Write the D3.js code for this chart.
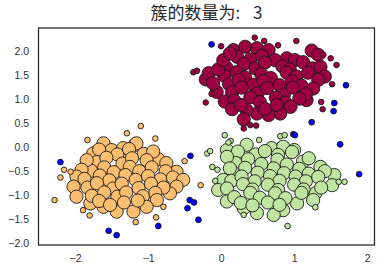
<!DOCTYPE html>
<html>
<head>
<meta charset="utf-8">
<script src="https://cdn.jsdelivr.net/npm/d3@7"></script>
<style>
  body { margin: 0; background: #fff; }
  svg { display: block; }
</style>
</head>
<body>
<script>
"use strict";

const width = 380;
const height = 270;

const clusterNames = ["0", "1", "2"];
const xTicks = [-2, -1, 0, 1, 2];
const yTicks = [-2, -1.5, -1, -0.5, 0, 0.5, 1, 1.5, 2];

// core samples of cluster 0 (red)
const redCore = [
  [0.17, 2.02], [0.33, 2.09], [0.49, 2.06], [0.65, 2.02], [0.9, 1.85], [1.01, 1.81],
  [0.22, 1.88], [0.4, 1.83], [0.56, 1.9], [0.74, 1.81],
  [0.07, 1.66], [0.31, 1.73], [0.47, 1.64], [0.6, 1.76], [0.84, 1.68], [0.94, 1.62], [1.12, 1.77], [1.25, 1.64],
  [1.24, 2.01], [1.33, 1.92], [1.36, 1.67], [1.42, 1.47],
  [0.04, 1.49], [0.21, 1.56], [0.33, 1.45], [0.55, 1.52], [0.68, 1.44], [0.9, 1.55], [1.03, 1.47], [1.19, 1.55],
  [-0.21, 1.41], [-0.17, 1.54], [-0.04, 1.62], [0.03, 1.81], [0.12, 1.95],
  [0.11, 1.31], [0.24, 1.4], [0.44, 1.3], [0.58, 1.38], [0.8, 1.29], [0.97, 1.37], [1.1, 1.28],
  [1.33, 1.4], [1.26, 1.22], [1.17, 0.98],
  [0.15, 1.14], [0.28, 1.24], [0.5, 1.12], [0.63, 1.23], [0.86, 1.1], [0.98, 1.24], [1.16, 1.1],
  [-0.06, 1.15], [-0.11, 1.33], [0.05, 0.95],
  [0.18, 0.97], [0.4, 1.04], [0.53, 0.94], [0.75, 1.03], [0.88, 0.93], [1.07, 1.01],
  [0.95, 0.84], [0.81, 0.7], [0.65, 0.67], [0.49, 0.7], [0.35, 0.77], [0.31, 0.58], [0.15, 0.79],
  [0.27, 0.88], [0.6, 0.8], [0.76, 0.88]
];
const redBorder = [
  [0.0, 2.1], [0.46, 2.28], [0.59, 2.21], [0.78, 2.12], [1.03, 2.21], [1.4, 1.92], [1.5, 1.85],
  [1.58, 1.71], [1.52, 1.31], [-0.38, 1.56], [-0.33, 1.59], [-0.13, 1.11], [-0.21, 0.93],
  [1.37, 0.94], [1.39, 0.79], [0.31, 0.39], [0.4, 0.46], [0.48, 0.45]
];

// core samples of cluster 1 (orange)
const orangeCore = [
  [-1.61, 0.08], [-1.75, -0.13], [-1.5, -0.06], [-1.34, -0.02], [-1.18, 0.05], [-1.16, 0.08],
  [-1.67, -0.05], [-1.42, -0.15], [-1.26, -0.04], [-1.06, -0.14],
  [-1.7, -0.31], [-1.57, -0.22], [-1.35, -0.34], [-1.22, -0.23], [-0.86, -0.25],
  [-0.93, -0.09], [-1.02, -0.27], [-0.75, -0.33], [-0.61, -0.51],
  [-1.78, -0.49], [-1.6, -0.42], [-1.47, -0.52], [-1.25, -0.41], [-1.12, -0.5], [-0.95, -0.42], [-0.76, -0.5],
  [-1.84, -0.27], [-1.91, -0.47], [-1.98, -0.61], [-2.02, -0.82],
  [-1.87, -0.66], [-1.66, -0.59], [-1.53, -0.69], [-1.31, -0.58], [-1.17, -0.68], [-1.0, -0.6], [-0.83, -0.67], [-0.66, -0.63],
  [-0.52, -0.68], [-0.61, -0.82], [-0.7, -0.96],
  [-1.83, -0.84], [-1.7, -0.75], [-1.48, -0.86], [-1.36, -0.76], [-1.13, -0.85], [-0.96, -0.76], [-0.79, -0.84],
  [-1.98, -1.03], [-1.79, -1.17],
  [-1.77, -1.01], [-1.6, -0.94], [-1.42, -1.03], [-1.3, -0.94], [-1.07, -1.02], [-0.9, -0.95],
  [-0.88, -1.1], [-1.02, -1.24], [-1.2, -1.34], [-1.43, -1.34], [-1.61, -1.24],
  [-1.67, -1.12], [-1.52, -1.2], [-1.33, -1.15], [-1.14, -1.11]
];
const orangeBorder = [
  [-1.1, 0.44], [-1.29, 0.29], [-0.9, 0.18], [-1.83, 0.15], [-2.15, -0.47], [-2.06, -0.51],
  [-2.2, -0.63], [-2.28, -1.1], [-0.5, -0.29], [-0.28, -0.79], [-0.79, -1.24], [-1.8, -1.42],
  [-0.89, -1.46], [-1.17, -1.56], [-1.89, -1.31]
];

// core samples of cluster 2 (green)
const greenCore = [
  [0.08, -0.06], [0.35, 0.05], [0.69, -0.02], [0.85, 0.01], [1.0, -0.06],
  [0.23, -0.09], [0.47, -0.15], [0.6, -0.08], [0.78, -0.16], [0.97, -0.1],
  [0.2, -0.33], [0.37, -0.25], [0.55, -0.35], [0.77, -0.26], [0.9, -0.36], [1.12, -0.3],
  [1.2, -0.23], [1.36, -0.41], [1.55, -0.58], [1.52, -0.79],
  [0.16, -0.52], [0.33, -0.43], [0.5, -0.53], [0.72, -0.44], [0.86, -0.54], [1.07, -0.45], [1.2, -0.55], [1.42, -0.5],
  [0.08, -0.2], [0.12, -0.44], [0.03, -0.68], [-0.04, -0.89],
  [0.14, -0.7], [0.28, -0.61], [0.46, -0.71], [0.67, -0.6], [0.8, -0.7], [1.02, -0.61], [1.16, -0.71], [1.33, -0.62],
  [1.29, -0.96], [1.26, -1.1], [1.04, -1.17],
  [0.08, -0.86], [0.3, -0.77], [0.43, -0.88], [0.64, -0.78], [0.78, -0.89], [1.0, -0.78], [1.13, -0.88], [1.37, -0.84],
  [0.85, -1.31], [0.72, -1.41], [0.49, -1.37], [0.31, -1.27], [0.08, -1.13],
  [0.18, -1.04], [0.4, -0.95], [0.53, -1.05], [0.74, -0.96], [0.88, -1.06], [1.1, -0.95],
  [0.27, -1.16], [0.43, -1.21], [0.64, -1.15], [0.8, -1.2]
];
const greenBorder = [
  [0.05, 0.25], [0.81, 0.23], [0.87, 0.25], [0.52, 0.15], [0.13, 0.13], [0.1, 0.1],
  [-0.19, -0.13], [-0.15, -0.08], [-0.12, -0.41], [-0.05, -0.47], [-0.08, -0.7],
  [0.31, -1.41], [0.91, -1.64], [1.29, -1.25], [1.61, -0.72], [1.69, -0.72]
];

// noise samples (label -1)
const noise = [
  [-0.13, 2.14], [1.71, 1.29], [1.55, 0.92], [1.54, 0.75], [1.24, 0.52], [0.99, 0.27],
  [1.01, 0.25], [1.63, 0.06], [1.89, -0.56], [-2.2, -0.31], [-0.42, -0.18], [-0.43, -1.1],
  [-0.37, -1.15], [-0.46, -1.27], [-0.31, -1.51], [-0.86, -1.64], [-1.54, -1.74], [-1.43, -1.83]
];

const clusterColors = ["#9e0142", "#fdbf6f", "#bfe5a0"];
const noiseColor = "#0000ff";

const margin = { left: 38.5, right: 5.5, top: 28, bottom: 25 };

const svg = d3
  .select("body")
  .append("svg")
  .attr("width", width)
  .attr("height", height);

const x = d3
  .scaleLinear()
  .domain([-2.5, 2.1])
  .range([margin.left, width - margin.right]);
const y = d3
  .scaleLinear()
  .domain([-2.035, 2.48])
  .range([height - margin.bottom, margin.top]);

svg
  .append("clipPath")
  .attr("id", "plot-clip")
  .append("rect")
  .attr("x", margin.left)
  .attr("y", margin.top)
  .attr("width", width - margin.left - margin.right)
  .attr("height", height - margin.top - margin.bottom);

const plot = svg.append("g").attr("clip-path", "url(#plot-clip)");

function drawPoints(data, color, r) {
  plot
    .append("g")
    .selectAll("circle")
    .data(data)
    .enter()
    .append("circle")
    .attr("cx", function (d) {
      return x(d[0]);
    })
    .attr("cy", function (d) {
      return y(d[1]);
    })
    .attr("r", r)
    .attr("fill", color)
    .attr("stroke", "#1a1a1a")
    .attr("stroke-width", 0.9);
}

const cores = [redCore, orangeCore, greenCore];
const borders = [redBorder, orangeBorder, greenBorder];
clusterNames.forEach(function (name, i) {
  drawPoints(cores[i], clusterColors[i], 6.6);
  drawPoints(borders[i], clusterColors[i], 2.8);
});
drawPoints(noise, noiseColor, 2.9);

// frame
svg
  .append("rect")
  .attr("x", margin.left)
  .attr("y", margin.top)
  .attr("width", width - margin.left - margin.right)
  .attr("height", height - margin.top - margin.bottom)
  .attr("fill", "none")
  .attr("stroke", "#262626")
  .attr("stroke-width", 1.25);

const xAxis = svg
  .append("g")
  .attr("transform", "translate(0," + (height - margin.bottom) + ")")
  .call(d3.axisBottom(x).tickValues(xTicks).tickSize(0).tickPadding(10).tickFormat(d3.format("d")));
const yAxis = svg
  .append("g")
  .attr("transform", "translate(" + margin.left + ",0)")
  .call(d3.axisLeft(y).tickValues(yTicks).tickSize(0).tickPadding(9.5).tickFormat(d3.format(".1f")));

[xAxis, yAxis].forEach(function (g) {
  g.select(".domain").remove();
  g.selectAll("text")
    .attr("font-family", "Liberation Sans, Arial, sans-serif")
    .attr("font-size", 10.5)
    .attr("fill", "#333");
});

const title = svg
  .append("text")
  .attr("x", (margin.left + width - margin.right) / 2)
  .attr("y", 19)
  .attr("text-anchor", "middle")
  .attr("font-family", "Noto Sans CJK SC, sans-serif")
  .attr("font-size", 17)
  .attr("fill", "#262626");
title.append("tspan").text("簇的数量为:");
title.append("tspan").attr("dx", 9).text(" " + clusterNames.length);
</script>
</body>
</html>
